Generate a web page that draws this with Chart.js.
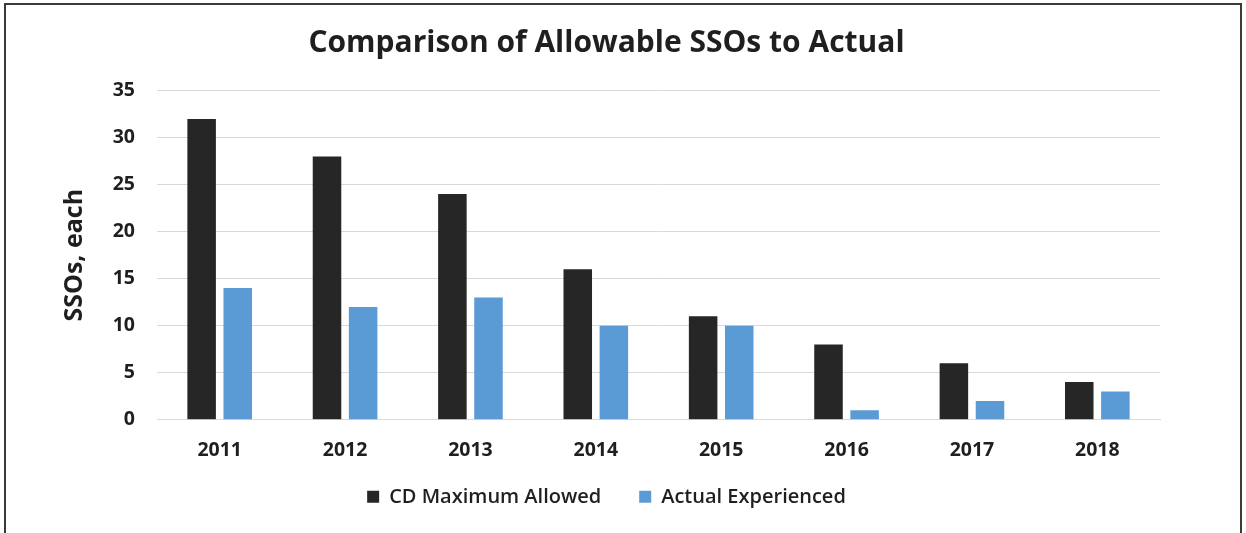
<!DOCTYPE html>
<html>
<head>
<meta charset="utf-8">
<script src="https://cdn.jsdelivr.net/npm/chart.js@4.4.1/dist/chart.umd.min.js"></script>
<style>
  html, body { margin: 0; padding: 0; background: #fff; overflow: hidden; }
  #frame {
    position: absolute; left: 4px; top: 3px;
    width: 1234px; height: 600px;
    border: 2px solid #3a3a3a;
  }
  #wrap { position: absolute; left: 0; top: 0; width: 1246px; height: 533px; }
</style>
</head>
<body>
<div id="frame"></div>
<div id="wrap"><canvas id="chart" width="1246" height="533"></canvas></div>
<script>
const years = ['2011', '2012', '2013', '2014', '2015', '2016', '2017', '2018'];
const maxAllowed = [32, 28, 24, 16, 11, 8, 6, 4];
const actualExperienced = [14, 12, 13, 10, 10, 1, 2, 3];
const yTicks = [0, 5, 10, 15, 20, 25, 30, 35];

const FONT = "'Open Sans', sans-serif";
const TEXT = '#1f1f1f';
const GRID = '#d9d9d9';

const ctx = document.getElementById('chart').getContext('2d');
// eslint-disable-next-line no-new
new Chart(ctx, {
  type: 'bar',
  data: {
    labels: years,
    datasets: [
      {
        label: 'CD Maximum Allowed',
        backgroundColor: '#262626',
        data: maxAllowed,
      },
      {
        label: 'Actual Experienced',
        backgroundColor: '#5b9bd5',
        data: actualExperienced,
      },
    ],
  },
  options: {
    responsive: false,
    animation: false,
    categoryPercentage: 0.576,
    barPercentage: 0.79,
    layout: { padding: { left: 0, right: 33, top: 0, bottom: 16.2 } },
    plugins: {
      title: {
        display: true,
        text: 'Comparison of Allowable SSOs to Actual',
        color: TEXT,
        font: { family: FONT, size: 30, weight: 'bold' },
        padding: { top: 25.5, bottom: 29.2 },
      },
      legend: {
        display: true,
        position: 'bottom',
        labels: {
          color: TEXT,
          font: { family: FONT, size: 20, weight: '600' },
          boxWidth: 12,
          boxHeight: 12,
          padding: 12,
          // a little extra room after the first entry
          generateLabels: (chart) => {
            const items = Chart.defaults.plugins.legend.labels.generateLabels(chart);
            items[0].text += '     ';
            return items;
          },
        },
      },
      tooltip: { enabled: false },
    },
    scales: {
      x: {
        grid: { display: false, drawTicks: false },
        border: { display: true, color: GRID, width: 1 },
        ticks: {
          color: TEXT,
          font: { family: FONT, size: 19.5, weight: 'bold' },
          padding: 19,
          maxRotation: 0,
        },
        afterFit: (scale) => { scale.height = 55.1; },
      },
      y: {
        min: 0,
        max: 35,
        afterBuildTicks: (scale) => { scale.ticks = yTicks.map((v) => ({ value: v })); },
        grid: { color: GRID, lineWidth: 1, drawTicks: false },
        border: { display: false },
        ticks: {
          color: TEXT,
          font: { family: FONT, size: 19.5, weight: 'bold' },
          padding: 22,
        },
        title: {
          display: true,
          text: 'SSOs, each',
          color: TEXT,
          font: { family: FONT, size: 25, weight: 'bold' },
          padding: { top: 60, bottom: 0 },
        },
        afterFit: (scale) => { scale.width = 157; },
      },
      // empty right-hand gutter so the plot stops at the same place as the title box
      gutter: {
        type: 'linear',
        position: 'right',
        grid: { display: false, drawTicks: false },
        border: { display: false },
        ticks: { display: false },
        afterFit: (scale) => { scale.width = 53; },
      },
    },
  },
});
</script>
</body>
</html>
